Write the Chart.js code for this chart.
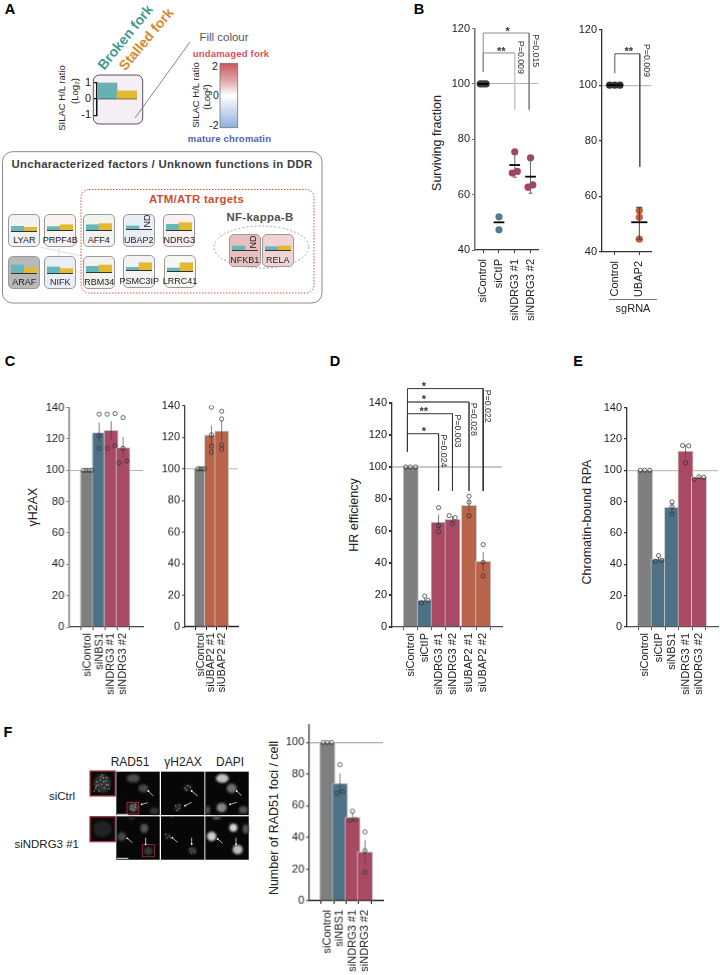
<!DOCTYPE html>
<html>
<head>
<meta charset="utf-8">
<script src="https://cdn.jsdelivr.net/npm/chart.js@4"></script>
<style>
  html, body { margin: 0; background: #fff; }
  #page { position: relative; width: 720px; height: 975px; overflow: hidden; font-family: "Liberation Sans", Arial, sans-serif; color: #222; }
  #page canvas, #page svg { position: absolute; }
  .lbl { position: absolute; white-space: nowrap; line-height: 1; transform-origin: center; }
  .tile { position: absolute; box-sizing: border-box; border: 1px solid #9a9a9a; border-radius: 5px; }
</style>
</head>
<body>
<div id="page"></div>
<script>
Chart.defaults.animation = false;
Chart.defaults.font.family = '"Liberation Sans", Arial, sans-serif';
Chart.defaults.font.size = 11;
Chart.defaults.color = '#222';

// panel A, key tile
const keyVals = [1, 0.5];
const keySeries = ['Broken fork', 'Stalled fork'];

// panel A, protein tiles (log2 ratios; null = not determined)
const tileNames = ['LYAR', 'PRPF4B', 'AFF4', 'UBAP2', 'NDRG3', 'ARAF', 'NIFK', 'RBM34', 'PSMC3IP', 'LRRC41', 'NFKB1', 'RELA'];
const tileBroken = [0.39, 0.28, 0.44, 0.25, 0.47, 0.67, 0.5, 0.47, 0.22, 0.25, 0.33, 0.28];
const tileStalled = [0.31, 0.44, 0.53, null, 0.61, 0.42, 0.36, 0.58, 0.61, 0.69, null, 0.33];
const tileFills = ['#f2f2f2', '#faf3f1', '#f1f3f1', '#e9edf6', '#fbf0ee', '#b9b9b9', '#e9edf6', '#f2f3ef', '#f3f3f3', '#f7f7f5', '#e8bfbf', '#f0d4d4'];

// panel B, left
const bCats1 = ['siControl', 'siCtIP', 'siNDRG3 #1', 'siNDRG3 #2'];
const bPts1 = [[100, 100, 100], [52, 47.3], [75.5, 67.8, 68.4], [73.3, 62.7, 63.5]];
const bMeans1 = [100, 50, 70.7, 66.5];
const bLow1 = [null, null, 66.3, 60.5];
const bHigh1 = [null, null, 75.7, 73.3];

// panel B, right
const bCats2 = ['Control', 'UBAP2'];
const bPts2 = [[100, 100, 100], [54.9, 52.5, 44.6]];
const bMeans2 = [100, 50.7];
const bLow2 = [null, 44.6];
const bHigh2 = [null, 56.1];

// panel C
const cCats1 = ['siControl', 'siNBS1', 'siNDRG3 #1', 'siNDRG3 #2'];
const cVals1 = [100, 124, 125.5, 114.5];
const cLow1 = [100, 117.7, 119.2, 108.2];
const cHigh1 = [100, 130.5, 131.3, 121.3];
const cPts1 = [[100, 100, 100, 100], [135.8, 122, 114], [135.8, 136.2, 114, 115.6], [133.6, 114, 104.8, 106]];

const cCats2 = ['siControl', 'siUBAP2 #1', 'siUBAP2 #2'];
const cVals2 = [100, 121.5, 124];
const cLow2 = [100, 115, 118];
const cHigh2 = [100, 127.4, 130.5];
const cPts2 = [[100, 100, 100, 100], [139, 121.5, 114.3, 110.5], [136.4, 131.6, 115.2, 112.4]];

// panel D
const dCats = ['siControl', 'siCtIP', 'siNDRG3 #1', 'siNDRG3 #2', 'siUBAP2 #1', 'siUBAP2 #2'];
const dVals = [100, 16.9, 65.6, 67.3, 76, 41];
const dLow = [100, 15.5, 61, 65.2, 72.5, 35];
const dHigh = [100, 18.3, 70.4, 69.4, 79.8, 46.9];
const dPts = [[100, 100, 100], [15, 19.4, 16.7], [74.6, 63.3, 59.6], [69.6, 68.3, 64.6], [81.7, 78, 69.6], [51.5, 40.4, 31.9]];

// panel E
const eCats = ['siControl', 'siCtIP', 'siNBS1', 'siNDRG3 #1', 'siNDRG3 #2'];
const eVals = [100, 43.5, 76.4, 112.2, 95.5];
const eLow = [100, 42.5, 73.4, 108.2, 94.7];
const eHigh = [100, 44.5, 79.4, 116.2, 96.3];
const ePts = [[100, 100, 100], [41.8, 45.6, 42.6], [79.8, 76.8, 72], [115.8, 115.6, 104.8], [94.2, 95.9, 95.5]];

// panel F
const fCats = ['siControl', 'siNBS1', 'siNDRG3 #1', 'siNDRG3 #2'];
const fVals = [100, 74.2, 52.7, 30.9];
const fLow = [100, 67.7, 49.7, 23];
const fHigh = [100, 80.5, 55.7, 38.4];
const fPts = [[100, 100, 100], [86, 68, 69], [56.5, 50.8, 51.3], [43.5, 31.7, 18]];

const GREY = '#7f7f7f', BLUE = '#4d7287', CRIM = '#a84a63', ORNG = '#b9634a';
const page = document.getElementById('page');

// absolute text, (x,y) is the centre of the text
function label(text, x, y, o = {}) {
  const d = document.createElement('div');
  d.className = 'lbl';
  d.textContent = text;
  d.style.cssText = `left:${x}px;top:${y}px;font-size:${o.size || 11}px;color:${o.color || '#222'};` +
    `font-weight:${o.bold ? 'bold' : 'normal'};letter-spacing:${o.ls || 0}px;` +
    `transform:translate(-50%,-50%) rotate(${o.rot || 0}deg);`;
  page.appendChild(d);
  return d;
}

function addCanvas(x, y, w, h) {
  const c = document.createElement('canvas');
  c.width = w; c.height = h;
  c.style.left = x + 'px'; c.style.top = y + 'px';
  c.style.width = w + 'px'; c.style.height = h + 'px';
  page.appendChild(c);
  return c;
}

// a plain polyline in data coordinates, allowed to leave the plot area
function seg(xs, ys, color, width = 1) {
  return {
    type: 'line', data: xs.map((x, i) => ({ x, y: ys[i] })), borderColor: color, borderWidth: width,
    pointRadius: 0, fill: false, tension: 0, clip: false, order: 1,
  };
}

// significance bracket: left leg, top bar, right leg
function bracket(x0, x1, low0, top, low1, color = '#444', width = 1) {
  return seg([x0, x0, x1, x1], [low0, top, top, low1], color, width);
}

// text in data coordinates (stars and P values)
const notesPlugin = (notes) => ({
  id: 'notes',
  afterDatasetsDraw(chart) {
    const { ctx, scales } = chart;
    notes.forEach(n => {
      ctx.save();
      ctx.translate(scales.x.getPixelForValue(n.x), scales.y.getPixelForValue(n.y));
      ctx.rotate((n.rot || 0) * Math.PI / 180);
      ctx.font = `${n.bold ? 'bold ' : ''}${n.size || 8.8}px "Liberation Sans", Arial, sans-serif`;
      ctx.fillStyle = '#333';
      ctx.textAlign = 'center';
      ctx.textBaseline = 'middle';
      ctx.fillText(n.text, 0, 0);
      ctx.restore();
    });
  },
});

// shared axes/frame for panels B-F. Geometry is in page pixels.
function panel(g, cats, xs, datasets, notes = []) {
  const L = 34, padT = g.padT || 8, padR = g.padR || 2, B = g.B || 74;
  const w = g.right - g.axisX, h = g.bottom - g.top;
  const xMin = xs[0] - (g.x0 - g.axisX) / g.unit;
  const xMax = xMin + w / g.unit;
  return new Chart(addCanvas(g.axisX - L, g.top - padT, L + w + padR, padT + h + B), {
    data: { datasets },
    options: {
      responsive: false, events: [],
      layout: { autoPadding: false, padding: { top: padT, right: padR } },
      plugins: { legend: { display: false }, tooltip: { enabled: false } },
      scales: {
        x: {
          type: 'linear', min: xMin, max: xMax,
          afterBuildTicks: s => { s.ticks = xs.map(v => ({ value: v })); },
          afterFit: s => { s.height = B; },
          ticks: { autoSkip: false, minRotation: 90, maxRotation: 90, padding: g.tickPad || 3, color: '#222', callback: (v, i) => cats[i] },
          grid: { drawOnChartArea: false, tickLength: 3, tickColor: g.xColor || '#333' },
          border: { color: g.xColor || '#333', width: 1.3 },
        },
        y: {
          min: g.yMin, max: g.yMax,
          afterFit: s => { s.width = L; },
          ticks: { stepSize: 20, includeBounds: false, padding: 2, color: '#222' },
          grid: {
            color: c => (c.tick && c.tick.value === 100 ? (g.refColor || '#b5b5b5') : 'transparent'),
            lineWidth: g.refWidth || 1, tickLength: 3, tickColor: g.yColor || '#444',
          },
          border: { color: g.yColor || '#444', width: g.yWidth || 1.3 },
        },
      },
    },
    plugins: [notesPlugin(notes)],
  });
}

// bars + error lines + open circles
function barSets(xs, vals, low, high, pts, jit, fills, barW) {
  const sets = [{
    type: 'bar', data: xs.map((x, i) => ({ x, y: vals[i] })), backgroundColor: fills,
    borderColor: 'rgba(200,200,200,.95)', borderWidth: 1, barThickness: barW, order: 5,
  }];
  xs.forEach((x, i) => {
    if (low[i] !== high[i]) sets.push(seg([x, x], [low[i], high[i]], 'rgba(70,70,70,.7)', 1));
    sets.push({
      type: 'line', showLine: false, data: pts[i].map((v, k) => ({ x: x + jit[i][k], y: v })),
      pointStyle: 'circle', pointRadius: 2.1, pointBorderWidth: 0.9,
      pointBorderColor: 'rgba(45,45,45,.8)', pointBackgroundColor: 'transparent', order: 0,
    });
  });
  return sets;
}

// dots + mean line + optional capped whisker (panel B)
function dotSets(xs, pts, means, low, high, jit, colors, wCol, meanHalf) {
  const sets = [];
  xs.forEach((x, i) => {
    if (low[i] != null) {
      sets.push(seg([x, x], [low[i], high[i]], wCol, 1));
      sets.push(seg([x - 0.13, x + 0.13], [low[i], low[i]], wCol, 1));
      sets.push(seg([x - 0.13, x + 0.13], [high[i], high[i]], wCol, 1));
    }
    sets.push({
      type: 'line', showLine: false, data: pts[i].map((v, k) => ({ x: x + jit[i][k], y: v })),
      pointStyle: 'circle', pointRadius: 3.6, pointBorderWidth: 0, pointBackgroundColor: colors[i], order: 2,
    });
    sets.push(Object.assign(seg([x - meanHalf, x + meanHalf], [means[i], means[i]], '#000', 1.8), { order: 0 }));
  });
  return sets;
}

/* ---------- static shapes behind panel A and the micrographs ---------- */
const svgNS = 'http://www.w3.org/2000/svg';
function buildShapes() {
  const X = z => 85 + z / 3, Y = z => 765 + z / 3;
  let s = `<defs>
    <filter id="b1" x="-50%" y="-50%" width="200%" height="200%"><feGaussianBlur stdDeviation="1.2"/></filter>
    <filter id="b2" x="-80%" y="-80%" width="260%" height="260%"><feGaussianBlur stdDeviation="0.4"/></filter>
    <linearGradient id="cbar" x1="0" y1="0" x2="0" y2="1">
      <stop offset="0" stop-color="#c8565e"/><stop offset=".28" stop-color="#e2aaaa"/><stop offset=".5" stop-color="#ffffff"/>
      <stop offset=".72" stop-color="#cfdcf0"/><stop offset="1" stop-color="#8fb0dd"/></linearGradient>
  </defs>`;
  // panel A frames
  s += `<rect x="2.5" y="151.7" width="319.5" height="151.3" rx="10" fill="#fff" stroke="#8a8a8a" stroke-width="1"/>`;
  s += `<path d="M40 247L82 256M59 248V256M76 272H83" stroke="#e2e2e2" stroke-width="1.2" fill="none"/>`;
  s += `<rect x="81" y="189.5" width="233" height="103.5" rx="8" fill="none" stroke="#d0573a" stroke-width="1" stroke-dasharray="1.5 1.5"/>`;
  s += `<ellipse cx="261.5" cy="247" rx="47.5" ry="21" fill="none" stroke="#8a8a8a" stroke-width=".8" stroke-dasharray="2 2"/>`;
  s += `<rect x="93.3" y="75" width="49.4" height="49" rx="6" fill="#f6eef5" stroke="#555" stroke-width="1"/>`;
  s += `<line x1="190" y1="42" x2="135" y2="118" stroke="#777" stroke-width=".9"/>`;
  s += `<rect x="220" y="63.3" width="17.7" height="64.4" fill="url(#cbar)" stroke="#777" stroke-width=".8"/>`;
  // micrograph panels
  const cell = (zx, zy, rx, ry, g, f = 'b1') =>
    `<ellipse cx="${X(zx)}" cy="${Y(zy)}" rx="${rx / 3}" ry="${ry / 3}" fill="rgb(${g},${g},${g})" filter="url(#${f})"/>`;
  [[94, 20], [228, 20], [361, 20], [94, 154], [228, 154], [361, 154]].forEach(([zx, zy]) => {
    s += `<rect x="${X(zx)}" y="${Y(zy)}" width="43.4" height="43.4" fill="#070707"/>`;
  });
  s += cell(145, 40, 20, 12, 75) + cell(175, 70, 15, 12, 70) + cell(145, 128, 14, 14, 80) + cell(208, 138, 14, 11, 48);
  s += cell(412, 40, 19, 13, 195) + cell(440, 70, 15, 14, 110) + cell(410, 128, 15, 14, 135) + cell(475, 135, 13, 11, 85) + cell(368, 135, 7, 12, 85);
  s += cell(110, 215, 13, 13, 70) + cell(178, 190, 12, 14, 85) + cell(190, 258, 14, 13, 55) + cell(140, 160, 10, 5, 45);
  s += cell(380, 214, 14, 14, 205) + cell(445, 188, 12, 12, 215) + cell(458, 254, 15, 14, 190) + cell(482, 192, 9, 14, 85) + cell(395, 158, 12, 5, 100);
  // speckled gammaH2AX / RAD51 nuclei
  const speck = (list, g, r = 2.3) => list.map(([a, b]) => cell(a, b, r, r, g, 'b2')).join('');
  s += cell(308, 68, 13, 10, 38) + cell(278, 128, 11, 11, 38) + cell(248, 213, 11, 9, 32) + cell(322, 257, 13, 11, 48);
  s += speck([[300, 70], [308, 62], [316, 66], [304, 76], [272, 122], [282, 130], [276, 136], [284, 120]], 135);
  s += speck([[140, 122], [150, 126], [146, 134], [138, 132], [152, 118]], 150);
  s += speck([[242, 208], [252, 212], [246, 220], [256, 218], [316, 252], [326, 256], [320, 264], [330, 262], [262, 156]], 105);
  // insets
  s += `<rect x="${X(15)}" y="${Y(18)}" width="25.3" height="25" fill="#0a0a0a" stroke="#b8404e" stroke-width="1.3"/>`;
  s += `<rect x="${X(15)}" y="${Y(155)}" width="25.3" height="25" fill="#0a0a0a" stroke="#a93845" stroke-width="1.3"/>`;
  s += cell(52, 55, 26, 28, 48) + cell(52, 192, 27, 25, 36);
  s += speck([[32, 70], [40, 60], [46, 45], [55, 38], [62, 48], [70, 60], [50, 58], [58, 68], [42, 78], [28, 78], [66, 38], [52, 30], [72, 72], [36, 50], [56, 50], [48, 36], [64, 60], [34, 62]], 150);
  // red boxes on the crops
  s += `<rect x="${X(126)}" y="${Y(112)}" width="11.7" height="11.7" fill="none" stroke="#a82c34" stroke-width="1"/>`;
  s += `<rect x="${X(172)}" y="${Y(239)}" width="12" height="12" fill="none" stroke="#8e2a30" stroke-width="1"/>`;
  // arrows and scale bars
  [[190, 78, 205, 93], [170, 118, 188, 113], [320, 78, 338, 93], [300, 122, 320, 112], [455, 78, 470, 92], [435, 118, 455, 112],
   [127, 220, 142, 233], [182, 238, 182, 218], [262, 218, 278, 232], [320, 237, 320, 218], [398, 222, 413, 235], [453, 238, 453, 218]].forEach(([a, b, c, d]) => {
    s += `<line x1="${X(a)}" y1="${Y(b)}" x2="${X(c)}" y2="${Y(d)}" stroke="#fff" stroke-width=".7"/><circle cx="${X(a)}" cy="${Y(b)}" r=".9" fill="#fff"/>`;
  });
  s += `<line x1="${X(96)}" y1="${Y(148)}" x2="${X(128)}" y2="${Y(148)}" stroke="#ddd" stroke-width="1"/>`;
  s += `<line x1="${X(96)}" y1="${Y(280)}" x2="${X(130)}" y2="${Y(280)}" stroke="#eee" stroke-width="1"/>`;
  const el = document.createElementNS(svgNS, 'svg');
  el.setAttribute('width', 720); el.setAttribute('height', 975);
  el.style.left = 0; el.style.top = 0;
  el.innerHTML = s;
  page.appendChild(el);
}
buildShapes();

/* ---------- panel letters ---------- */
[['A', 10, 9], ['B', 419, 9], ['C', 10, 361], ['D', 335, 361], ['E', 578, 361], ['F', 8, 732]].forEach(([t, x, y]) => label(t, x, y, { size: 14.5, bold: true, color: '#000' }));

/* ---------- panel A ---------- */
label(keySeries[0], 125, 37, { size: 14, bold: true, color: '#3f9c8e', rot: -51 });
label(keySeries[1], 146, 39, { size: 14, bold: true, color: '#d68a2e', rot: -50 });
label('SILAC H/L ratio', 62, 98, { size: 9.5, rot: -90 });
label('(Log\u2082)', 75, 91, { size: 9.5, rot: -90 });
label('Fill colour', 224, 38, { size: 11.5, color: '#555' });
label('undamaged fork', 231, 53.5, { size: 9.5, bold: true, color: '#d9505a', ls: 0.2 });
label('SILAC H/L ratio', 196, 95, { size: 9.5, rot: -90 });
label('(Log\u00b2)', 207, 97, { size: 9.5, rot: -90 });
label('2', 215, 66, { size: 10.5 });
label('0', 216, 95, { size: 10.5 });
label('-2', 214, 125, { size: 10.5 });
label('mature chromatin', 229.5, 139, { size: 9.5, bold: true, color: '#4a5fb5', ls: 0.2 });
label('Uncharacterized factors / Unknown functions in DDR', 162, 164.5, { size: 11.4, bold: true, color: '#3d3d3d', ls: 0.3 });
label('ATM/ATR targets', 196.5, 199.5, { size: 11.4, bold: true, color: '#c9502f', ls: 0.3 });
label('NF-kappa-B', 260, 218, { size: 11.4, bold: true, color: '#505050', ls: 0.3 });

// key tile chart
new Chart(addCanvas(66.7, 73.3, 72, 52), {
  type: 'bar',
  data: { labels: keySeries, datasets: [{ data: keyVals, backgroundColor: ['#66b2b0', '#e2b92f'], barPercentage: 1, categoryPercentage: 1 }] },
  options: {
    responsive: false, events: [],
    layout: { autoPadding: false, padding: { top: 6, bottom: 6, right: 2 } },
    plugins: { legend: { display: false }, tooltip: { enabled: false } },
    scales: {
      x: { display: false },
      y: {
        min: -1, max: 1, afterFit: s => { s.width = 30; },
        ticks: { stepSize: 1, padding: 3, color: '#111', font: { size: 11 } },
        grid: { color: c => (c.tick && c.tick.value === 0 ? '#111' : 'transparent'), lineWidth: 1.3, tickLength: 3, tickColor: '#111' },
        border: { color: '#111', width: 1.5 },
      },
    },
  },
});

// page position of each tile: left, top, baseline of its bars
const tileBox = [[8.3, 214.3, 231], [44.3, 214.3, 230.3], [82.7, 214.3, 230.3], [122.7, 214.3, 229], [163.3, 214.3, 230.3],
  [8.3, 256, 273.3], [44.3, 256, 272.7], [83.3, 256, 271.7], [123.3, 255, 270.3], [164, 255, 270.7],
  [228.7, 234.3, 250], [261.7, 234.3, 250]];
tileNames.forEach((name, i) => {
  const [x, y, base] = tileBox[i];
  const t = document.createElement('div');
  t.className = 'tile';
  t.style.cssText = `left:${x}px;top:${y}px;width:32px;height:33px;background:${tileFills[i]};`;
  page.appendChild(t);
  new Chart(addCanvas(x + 3, base - 12, 26, 14), {
    type: 'bar',
    data: { labels: keySeries, datasets: [{ data: [tileBroken[i], tileStalled[i]], backgroundColor: ['#66b8b8', '#e2b92f'], barPercentage: 1, categoryPercentage: 1 }] },
    options: {
      responsive: false, events: [],
      layout: { autoPadding: false },
      plugins: { legend: { display: false }, tooltip: { enabled: false } },
      scales: {
        y: { display: false, min: 0, max: 1 },
        x: { afterFit: s => { s.height = 2; }, ticks: { display: false }, grid: { display: false, drawTicks: false }, border: { color: '#333', width: 1 } },
      },
    },
  });
  if (tileStalled[i] == null) label('ND', x + 24, base - 8, { size: 9, rot: -90, color: '#111' });
  label(name, x + 16, y + 26, { size: 9 });
});

/* ---------- panel B ---------- */
label('Surviving fraction', 436.7, 142.7, { size: 12.5, rot: -90 });
panel({ axisX: 474.5, right: 548, top: 28, bottom: 250, yMin: 40, yMax: 120, x0: 484, unit: 18.3, yColor: '#777', yWidth: 1.6, refColor: '#b5b5b5', B: 74, tickPad: 6 },
  bCats1, [0, 1, 2, 3],
  [...dotSets([0, 1, 2, 3], bPts1, bMeans1, bLow1, bHigh1,
    [[-0.18, 0, 0.18], [0, 0], [0, -0.16, 0.16], [0, -0.16, 0.14]],
    ['#3a3a3a', '#4d7b93', '#b03f5e', '#b03f5e'], '#666', 0.34),
  seg([2, 2], [111.2, 90.7], '#c4c4c4', 1.4),
  seg([0, 0, 2], [104.4, 111.2, 111.2], '#8a8a8a'),
  bracket(0, 2.91, 104.4, 118.4, 90.7, '#8a8a8a')],
  [{ x: 1.55, y: 118.9, text: '*', size: 11, bold: true }, { x: 1.15, y: 111.7, text: '**', size: 11, bold: true },
   { x: 2.33, y: 109.6, text: 'P=0.009', rot: 90 }, { x: 3.33, y: 112, text: 'P=0.015', rot: 90 }]);

panel({ axisX: 601.7, right: 657, top: 29, bottom: 252, yMin: 40, yMax: 120, x0: 616, unit: 27.3, yColor: '#333', refColor: '#bbb', refWidth: 1.3, B: 50, tickPad: 6 },
  bCats2, [0, 1],
  [...dotSets([0, 1], bPts2, bMeans2, bLow2, bHigh2,
    [[-0.21, 0, 0.21], [0, 0, 0]], ['#333', '#c0603f'], '#444', 0.33),
  bracket(0, 1.02, 104.3, 111.3, 70.7, '#555')],
  [{ x: 0.57, y: 111.9, text: '**', size: 11, bold: true }, { x: 1.3, y: 108.9, text: 'P=0.009', rot: 90 }]);
const rule = document.createElement('div');
rule.style.cssText = 'position:absolute;left:609px;top:299px;width:48px;height:1px;background:#777;';
page.appendChild(rule);
label('sgRNA', 633, 307.5, { size: 11 });

/* ---------- panel C ---------- */
label('\u03b3H2AX', 33.3, 506.7, { size: 12.5, rot: -90 });
panel({ axisX: 69, right: 142.7, top: 406.7, bottom: 626.7, yMin: 0, yMax: 140, x0: 80.7, unit: 15.87, yColor: '#888', yWidth: 1.6, xColor: '#444' },
  cCats1, [0, 1, 2, 3],
  barSets([0, 1, 2, 3], cVals1, cLow1, cHigh1, cPts1,
    [[-0.33, -0.1, 0.13, 0.36], [0, 0, 0], [-0.33, 0.33, -0.33, 0.33], [0, 0, -0.33, 0.33]],
    [GREY, BLUE, CRIM, CRIM], 14));
panel({ axisX: 185, right: 238.3, top: 405, bottom: 626.7, yMin: 0, yMax: 140, x0: 196, unit: 15.5, yColor: '#444', xColor: '#000' },
  cCats2, [0, 1, 2],
  barSets([0, 1, 2], cVals2, cLow2, cHigh2, cPts2,
    [[-0.33, -0.11, 0.11, 0.33], [0, 0, 0, 0], [0, 0, 0, 0]],
    [GREY, ORNG, ORNG], 14));

/* ---------- panel D ---------- */
label('HR efficiency', 354, 515, { size: 12.5, rot: -90 });
const dXs = [0, 1, 2, 3, 4.19, 5.21];
panel({ axisX: 391.7, right: 502.3, top: 402.7, bottom: 626.7, yMin: 0, yMax: 140, x0: 403.3, unit: 16.77, padT: 26, yColor: '#333', xColor: '#555', refColor: '#c8c8c8', refWidth: 2 },
  dCats, dXs,
  [...barSets(dXs, dVals, dLow, dHigh, dPts,
    [[-0.36, -0.04, 0.34], [-0.22, 0, 0.24], [0, 0, 0], [-0.24, 0.2, 0], [0, 0, 0], [0, 0, 0]],
    [GREY, BLUE, CRIM, CRIM, ORNG, ORNG], 15.3),
  bracket(-0.24, 5.21, 109.4, 149, 85, '#333'),
  bracket(-0.24, 4.19, 109.4, 140.6, 85, '#555'),
  seg([-0.24, 4.19], [140.6, 140.6], '#999', 1.4),
  bracket(-0.24, 3, 109.4, 133.3, 85, '#333'),
  bracket(-0.24, 2, 109.4, 120.8, 85, '#333')],
  [{ x: 0.94, y: 121.8, text: '*', size: 11, bold: true }, { x: 0.94, y: 134.6, text: '**', size: 11, bold: true },
   { x: 0.94, y: 141.9, text: '*', size: 11, bold: true }, { x: 0.94, y: 150.2, text: '*', size: 11, bold: true },
   { x: 2.35, y: 110, text: 'P=0.024', rot: 90 }, { x: 3.34, y: 122.5, text: 'P=0.003', rot: 90 },
   { x: 4.53, y: 129.8, text: 'P=0.028', rot: 90 }, { x: 5.53, y: 138, text: 'P=0.022', rot: 90 }]);

/* ---------- panel E ---------- */
label('Chromatin-bound RPA', 586.7, 521.7, { size: 12.5, rot: -90 });
panel({ axisX: 626.7, right: 718.5, top: 406.7, bottom: 626.7, yMin: 0, yMax: 140, x0: 638, unit: 17, padR: 1, yColor: '#333', xColor: '#555', refColor: '#c0c0c0', refWidth: 1.3 },
  eCats, [0, 1, 2, 3, 4],
  barSets([0, 1, 2, 3, 4], eVals, eLow, eHigh, ePts,
    [[-0.35, -0.02, 0.35], [-0.22, 0, 0.25], [0, 0, 0], [-0.22, 0.24, 0], [-0.35, 0, 0.35]],
    [GREY, BLUE, BLUE, CRIM, CRIM], 15.3));

/* ---------- panel F ---------- */
label('RAD51', 130, 762, { size: 12 });
label('\u03b3H2AX', 183, 762, { size: 12 });
label('DAPI', 230, 762, { size: 12 });
label('siCtrl', 62, 796.7, { size: 11.5 });
label('siNDRG3 #1', 46.7, 845, { size: 11.5 });
label('Number of RAD51 foci / cell', 274, 817.7, { size: 12.5, rot: -90 });
panel({ axisX: 309.3, right: 382.7, top: 724.3, bottom: 901, yMin: 0, yMax: 111.3, x0: 321, unit: 16.67, yColor: '#444', xColor: '#000', refColor: '#aaa', refWidth: 1.2, tickPad: 6 },
  fCats, [0, 1, 2, 3],
  barSets([0, 1, 2, 3], fVals, fLow, fHigh, fPts,
    [[-0.33, 0, 0.34], [0, -0.22, 0.22], [0, -0.22, 0.22], [0, 0, 0]],
    [GREY, BLUE, CRIM, CRIM], 15.3));
</script>
</body>
</html>
